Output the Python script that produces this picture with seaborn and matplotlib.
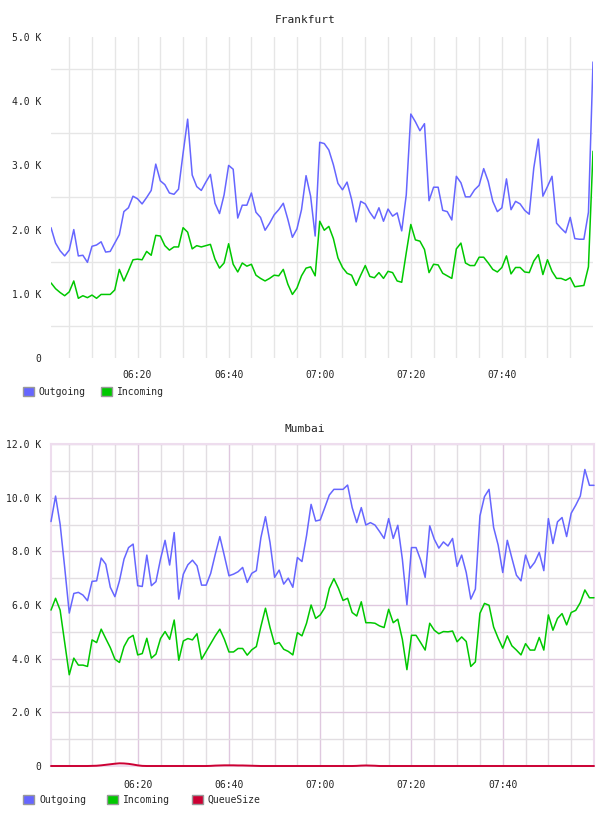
import numpy as np
import pandas as pd
import matplotlib
matplotlib.use("Agg")
import matplotlib.pyplot as plt
from matplotlib.patches import Patch
import seaborn as sns

# ---------------- data ----------------
minutes = list(range(1, 121))  # minutes after 06:00 (06:01 .. 08:00)

fra_outgoing = [2.03, 1.79, 1.67, 1.59, 1.68, 2.00, 1.59, 1.60, 1.49, 1.74,
                1.76, 1.81, 1.65, 1.66, 1.79, 1.92, 2.28, 2.34, 2.52, 2.48,
                2.40, 2.50, 2.61, 3.02, 2.76, 2.70, 2.57, 2.55, 2.63, 3.19,
                3.72, 2.85, 2.67, 2.61, 2.74, 2.86, 2.41, 2.25, 2.54, 3.00,
                2.94, 2.18, 2.38, 2.38, 2.57, 2.27, 2.19, 1.99, 2.10, 2.23,
                2.31, 2.41, 2.16, 1.88, 2.01, 2.31, 2.84, 2.52, 1.90, 3.36,
                3.34, 3.24, 3.01, 2.72, 2.62, 2.74, 2.47, 2.12, 2.44, 2.40,
                2.27, 2.17, 2.34, 2.13, 2.32, 2.21, 2.26, 1.98, 2.54, 3.80,
                3.68, 3.54, 3.65, 2.45, 2.66, 2.66, 2.30, 2.28, 2.15, 2.83,
                2.73, 2.51, 2.51, 2.62, 2.69, 2.95, 2.75, 2.44, 2.28, 2.34,
                2.79, 2.31, 2.44, 2.40, 2.30, 2.24, 2.96, 3.41, 2.52, 2.67,
                2.83, 2.10, 2.02, 1.95, 2.19, 1.86, 1.85, 1.85, 2.27, 4.61]

fra_incoming = [1.17, 1.08, 1.02, 0.97, 1.03, 1.20, 0.93, 0.97, 0.94, 0.98,
                0.93, 0.99, 0.99, 0.99, 1.06, 1.38, 1.20, 1.36, 1.53, 1.54,
                1.53, 1.66, 1.60, 1.91, 1.90, 1.75, 1.68, 1.73, 1.73, 2.03,
                1.96, 1.70, 1.75, 1.73, 1.75, 1.77, 1.54, 1.40, 1.48, 1.78,
                1.46, 1.34, 1.48, 1.43, 1.46, 1.29, 1.24, 1.20, 1.24, 1.29,
                1.28, 1.38, 1.15, 0.99, 1.09, 1.28, 1.40, 1.42, 1.28, 2.13,
                1.99, 2.05, 1.86, 1.56, 1.41, 1.32, 1.29, 1.13, 1.29, 1.44,
                1.27, 1.25, 1.33, 1.24, 1.35, 1.33, 1.20, 1.18, 1.64, 2.08,
                1.84, 1.82, 1.69, 1.33, 1.46, 1.45, 1.32, 1.28, 1.24, 1.70,
                1.79, 1.48, 1.44, 1.44, 1.57, 1.57, 1.48, 1.38, 1.34, 1.41,
                1.59, 1.31, 1.41, 1.41, 1.34, 1.33, 1.51, 1.61, 1.30, 1.53,
                1.35, 1.24, 1.24, 1.21, 1.25, 1.11, 1.12, 1.13, 1.42, 3.22]

mum_outgoing = [9.11, 10.06, 9.01, 7.40, 5.70, 6.43, 6.47, 6.37, 6.16, 6.88,
                6.90, 7.75, 7.52, 6.66, 6.31, 6.90, 7.71, 8.14, 8.27, 6.72,
                6.69, 7.86, 6.72, 6.87, 7.71, 8.41, 7.49, 8.70, 6.22, 7.15,
                7.50, 7.67, 7.46, 6.74, 6.74, 7.18, 7.89, 8.55, 7.83, 7.09,
                7.15, 7.24, 7.40, 6.84, 7.18, 7.28, 8.51, 9.29, 8.33, 7.03,
                7.30, 6.78, 7.00, 6.66, 7.77, 7.62, 8.58, 9.75, 9.13, 9.17,
                9.63, 10.10, 10.31, 10.31, 10.31, 10.47, 9.63, 9.07, 9.63, 8.98,
                9.07, 8.98, 8.74, 8.48, 9.22, 8.48, 8.97, 7.71, 6.01, 8.14,
                8.14, 7.68, 7.03, 8.95, 8.45, 8.12, 8.35, 8.20, 8.48, 7.44,
                7.86, 7.21, 6.22, 6.59, 9.32, 10.04, 10.31, 8.89, 8.23, 7.21,
                8.41, 7.75, 7.11, 6.90, 7.86, 7.37, 7.59, 7.96, 7.28, 9.22,
                8.29, 9.10, 9.26, 8.55, 9.42, 9.72, 10.06, 11.05, 10.46, 10.46]

mum_incoming = [5.81, 6.25, 5.81, 4.60, 3.40, 4.02, 3.76, 3.76, 3.71, 4.70,
                4.60, 5.10, 4.75, 4.41, 3.98, 3.86, 4.45, 4.76, 4.87, 4.14,
                4.19, 4.76, 4.02, 4.17, 4.75, 5.01, 4.72, 5.44, 3.94, 4.66,
                4.75, 4.70, 4.93, 3.98, 4.27, 4.56, 4.85, 5.10, 4.72, 4.25,
                4.25, 4.38, 4.38, 4.13, 4.33, 4.45, 5.20, 5.88, 5.16, 4.54,
                4.60, 4.35, 4.27, 4.14, 4.97, 4.85, 5.32, 6.00, 5.50, 5.63,
                5.90, 6.62, 6.98, 6.62, 6.17, 6.25, 5.72, 5.59, 6.12, 5.34,
                5.34, 5.32, 5.22, 5.16, 5.84, 5.34, 5.47, 4.72, 3.59, 4.87,
                4.87, 4.60, 4.32, 5.32, 5.06, 4.93, 5.01, 5.00, 5.03, 4.63,
                4.81, 4.64, 3.71, 3.88, 5.69, 6.06, 5.99, 5.18, 4.76, 4.39,
                4.85, 4.48, 4.32, 4.14, 4.56, 4.32, 4.32, 4.79, 4.32, 5.63,
                5.06, 5.50, 5.68, 5.26, 5.72, 5.80, 6.09, 6.56, 6.27, 6.27]

mum_queue = [0, 0, 0, 0, 0, 0, 0, 0, 0, 5,
             10, 25, 45, 65, 85, 100, 95, 80, 55, 25,
             5, 0, 0, 0, 0, 0, 0, 0, 0, 0,
             0, 0, 0, 0, 0, 5, 15, 20, 25, 25,
             25, 20, 20, 15, 10, 5, 0, 0, 0, 0,
             0, 0, 0, 0, 0, 0, 0, 0, 0, 0,
             0, 0, 0, 0, 0, 0, 0, 5, 15, 20,
             15, 10, 0, 0, 0, 0, 0, 0, 0, 0,
             0, 0, 0, 0, 0, 0, 0, 0, 0, 0,
             0, 0, 0, 0, 0, 0, 0, 0, 0, 0,
             0, 0, 0, 0, 0, 0, 0, 0, 0, 0,
             0, 0, 0, 0, 0, 0, 0, 0, 0, 0]

x_tick_minutes = [20, 40, 60, 80, 100]
x_tick_labels = ["06:20", "06:40", "07:00", "07:20", "07:40"]
fra_yticks = [0, 1000, 2000, 3000, 4000, 5000]
mum_yticks = [0, 2000, 4000, 6000, 8000, 10000, 12000]

series_colors = {"Outgoing": "#6666FF", "Incoming": "#00C800", "QueueSize": "#CC0033"}

# --------------- style ---------------
sns.set_theme(style="white")
plt.rcParams["font.family"] = ["DejaVu Sans Mono", "DejaVu Sans"]
plt.rcParams["font.size"] = 7

fig = plt.figure(figsize=(6.08, 8.16), dpi=100)
W, H = 608, 816


def axes_px(l, t, r, b):
    return fig.add_axes([l / W, 1 - b / H, (r - l) / W, (b - t) / H])


def ylab(v):
    return "0" if v == 0 else f"{v/1000:.1f} K"


def long_df(d):
    rows = []
    for name, vals in d.items():
        for m, v in zip(minutes, vals):
            rows.append((m, v, name))
    return pd.DataFrame(rows, columns=["minute", "value", "series"])


# ---------------- Frankfurt ----------------
ax1 = axes_px(51, 37, 593, 358)
df1 = long_df({"Outgoing": [v * 1000 for v in fra_outgoing],
               "Incoming": [v * 1000 for v in fra_incoming]})
sns.lineplot(data=df1, x="minute", y="value", hue="series", palette=series_colors,
             ax=ax1, legend=False, linewidth=1.1, estimator=None, sort=False)
ax1.set_xlim(1, 120)
ax1.set_ylim(0, 5000)
ax1.set_xticks(x_tick_minutes)
ax1.set_xticklabels(x_tick_labels)
ax1.set_xticks(list(range(5, 120, 5)), minor=True)
ax1.set_yticks(fra_yticks)
ax1.set_yticklabels([ylab(v) for v in fra_yticks])
ax1.set_yticks(list(range(500, 5000, 1000)), minor=True)
ax1.grid(False)
ax1.xaxis.grid(True, which="both", color="#E6E6E6", linewidth=1.0)
ax1.yaxis.grid(True, which="minor", color="#E6E6E6", linewidth=1.0)
for s in ax1.spines.values():
    s.set_visible(False)
ax1.tick_params(which="both", length=0)
ax1.tick_params(axis="x", pad=9, labelsize=7, colors="#222222")
ax1.tick_params(axis="y", pad=7, labelsize=7, colors="#222222")
ax1.set_xlabel("")
ax1.set_ylabel("")
ax1.set_axisbelow(True)
fig.text(305 / W, 1 - 20 / H, "Frankfurt", ha="center", va="center", fontsize=8, color="#222222")

leg1 = fig.legend(handles=[Patch(facecolor=series_colors["Outgoing"], edgecolor="#999999", label="Outgoing"),
                           Patch(facecolor=series_colors["Incoming"], edgecolor="#999999", label="Incoming")],
                  loc="center left", bbox_to_anchor=(23 / W, 1 - 392 / H), ncol=2, frameon=False,
                  borderpad=0, borderaxespad=0, handlelength=1.1, handleheight=1.1,
                  handletextpad=0.5, columnspacing=1.6, fontsize=7)

# ---------------- Mumbai ----------------
ax2 = axes_px(51, 444, 594, 766)
df2 = long_df({"Outgoing": [v * 1000 for v in mum_outgoing],
               "Incoming": [v * 1000 for v in mum_incoming],
               "QueueSize": mum_queue})
sns.lineplot(data=df2, x="minute", y="value", hue="series", palette=series_colors,
             ax=ax2, legend=False, linewidth=1.1, estimator=None, sort=False)
for ln in ax2.lines:
    ln.set_clip_on(False)
    ln.set_zorder(4)
ax2.lines[-1].set_linewidth(1.4)
ax2.set_xlim(1, 120)
ax2.set_ylim(0, 12000)
ax2.set_xticks(x_tick_minutes)
ax2.set_xticklabels(x_tick_labels)
ax2.set_xticks([m for m in range(5, 120, 5) if m not in x_tick_minutes], minor=True)
ax2.set_yticks(mum_yticks)
ax2.set_yticklabels([ylab(v) for v in mum_yticks])
ax2.set_yticks(list(range(1000, 12000, 2000)), minor=True)
ax2.grid(False)
ax2.grid(True, which="major", color="#DFC8DF", linewidth=1.0)
ax2.grid(True, which="minor", color="#E2DEE2", linewidth=1.0)
for s in ax2.spines.values():
    s.set_visible(True)
    s.set_color("#EEDDEE")
    s.set_linewidth(1.5)
ax2.tick_params(which="both", length=0)
ax2.tick_params(axis="x", pad=10, labelsize=7, colors="#222222")
ax2.tick_params(axis="y", pad=7, labelsize=7, colors="#222222")
ax2.set_xlabel("")
ax2.set_ylabel("")
ax2.set_axisbelow(True)
fig.text(305 / W, 1 - 429 / H, "Mumbai", ha="center", va="center", fontsize=8, color="#222222")

leg2 = fig.legend(handles=[Patch(facecolor=series_colors["Outgoing"], edgecolor="#999999", label="Outgoing"),
                           Patch(facecolor=series_colors["Incoming"], edgecolor="#999999", label="Incoming"),
                           Patch(facecolor=series_colors["QueueSize"], edgecolor="#999999", label="QueueSize")],
                  loc="center left", bbox_to_anchor=(23 / W, 1 - 800 / H), ncol=3, frameon=False,
                  borderpad=0, borderaxespad=0, handlelength=1.1, handleheight=1.1,
                  handletextpad=0.55, columnspacing=2.2, fontsize=7)

fig.savefig("out.png", dpi=100, facecolor="white")
